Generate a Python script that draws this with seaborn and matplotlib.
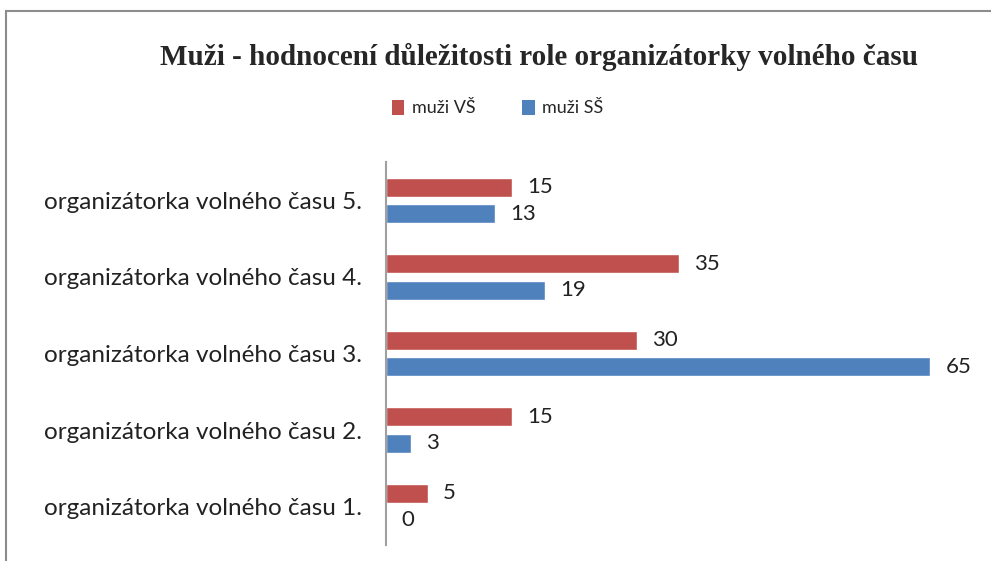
import matplotlib
matplotlib.use("Agg")
import matplotlib.pyplot as plt
import seaborn as sns
import pandas as pd
from matplotlib.lines import Line2D
from matplotlib.patches import Patch

categories = ["organizátorka volného času 5.", "organizátorka volného času 4.",
              "organizátorka volného času 3.", "organizátorka volného času 2.",
              "organizátorka volného času 1."]
vs_values = [15, 35, 30, 15, 5]
ss_values = [13, 19, 65, 3, 0]
series = ["muži VŠ", "muži SŠ"]
colors = ["#C0504D", "#4F81BD"]
title = "Muži - hodnocení důležitosti role organizátorky volného času"

df = pd.DataFrame({
    "cat": categories * 2,
    "val": vs_values + ss_values,
    "series": [series[0]] * len(categories) + [series[1]] * len(categories),
})

sns.set_style("white")
plt.rcParams["font.family"] = ["Lato", "DejaVu Sans"]

W, H = 991, 561
fig = plt.figure(figsize=(W / 100, H / 100), dpi=100)
ax = fig.add_axes([386 / W, 1 - 545 / H, (930 - 386) / W, (545 - 162) / H])

sns.barplot(data=df, y="cat", x="val", hue="series", order=categories,
            hue_order=series, palette=colors, orient="h", width=0.69, gap=0.28,
            ax=ax, legend=False, saturation=1)

ax.set_xlim(0, 65)
ax.set_ylim(len(categories) - 0.5, -0.5)
ax.set_xlabel("")
ax.set_ylabel("")
ax.set_xticks([])
for s in ["top", "right", "bottom"]:
    ax.spines[s].set_visible(False)
ax.spines["left"].set_color("#A0A0A0")
ax.spines["left"].set_linewidth(1.5)
ax.tick_params(axis="y", length=0, pad=17, labelsize=17.5, labelcolor="#222222")

for cont in ax.containers:
    ax.bar_label(cont, labels=[f"{int(v)}" for v in cont.datavalues],
                 padding=11, fontsize=16, color="#222222")

fig.text(538.5 / W, 1 - 57 / H, title, ha="center", va="center",
         fontsize=21, fontweight="bold", family="Liberation Serif")

handles = [Patch(facecolor=c, edgecolor="none") for c in colors]
fig.legend(handles, series, loc="center", bbox_to_anchor=(497.5 / W, 1 - 108 / H),
           ncol=2, frameon=False, fontsize=13, handlelength=0.7,
           handleheight=0.9, handletextpad=0.4, columnspacing=2.6)

fig.add_artist(Line2D([6 / W, 6 / W], [0, 1 - 11 / H], transform=fig.transFigure,
                      color="#8C8C8C", lw=1.5))
fig.add_artist(Line2D([6 / W, 1], [1 - 11 / H, 1 - 11 / H], transform=fig.transFigure,
                      color="#8C8C8C", lw=1.5))

fig.savefig("out.png", dpi=100)
